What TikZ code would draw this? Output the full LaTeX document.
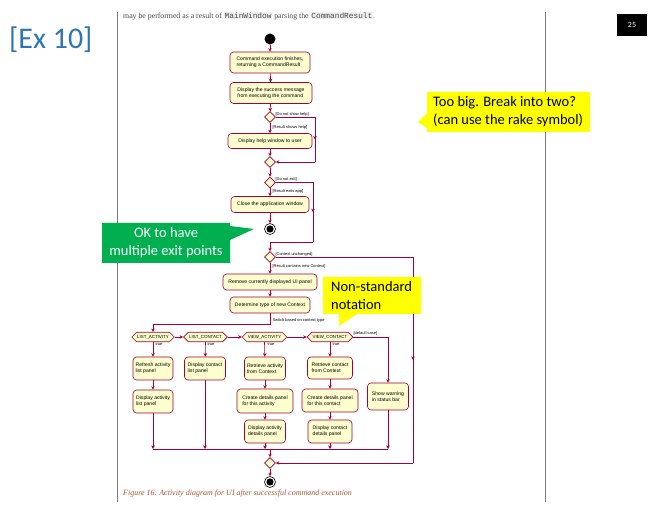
\documentclass[tikz,border=0pt]{standalone}
\usepackage{fontspec}
\setmainfont{Liberation Serif}
\setsansfont{Liberation Sans}
\setmonofont{Liberation Mono}
\newfontfamily\callfont{Carlito}
\usetikzlibrary{shapes.geometric,shapes.symbols,arrows.meta,decorations.markings}

\definecolor{umlfill}{HTML}{FEFECE}
\definecolor{umlline}{HTML}{A80036}
\definecolor{slideblue}{HTML}{2E75B6}
\definecolor{noteyellow}{HTML}{FFFF00}
\definecolor{notegreen}{HTML}{00B050}
\definecolor{pagerule}{HTML}{7A7A7A}
\definecolor{bodytext}{HTML}{4A4A4A}
\definecolor{codebg}{HTML}{EFEFEF}
\definecolor{captiontext}{HTML}{B0562E}

\tikzset{
  act/.style={draw=umlline, fill=umlfill, rounded corners=3.5pt, line width=0.6pt,
    font=\sffamily\fontsize{5.1}{6.1}\selectfont, align=left, inner sep=1pt},
  choice/.style={diamond, draw=umlline, fill=umlfill, line width=0.6pt,
    minimum width=11pt, minimum height=11pt, inner sep=0pt},
  casebox/.style={signal, signal to=west and east, draw=umlline, fill=umlfill,
    line width=0.6pt, font=\sffamily\fontsize{4.4}{5}\selectfont,
    minimum height=9.5pt, inner sep=0.8pt},
  wire/.style={color=umlline, line width=0.6pt},
  flow/.style={wire, -{Stealth[length=3.5pt,width=3.5pt]}},
  midflow/.style={wire, postaction={decorate}, decoration={markings,
    mark=at position #1 with {\arrow{Stealth[length=3.5pt,width=3.5pt]}}}},
  guard/.style={font=\sffamily\fontsize{4}{4.6}\selectfont, inner sep=0.3pt, anchor=west},
  startdot/.style={circle, fill=black, minimum size=11pt, inner sep=0pt},
  enddot/.style={circle, draw=black, fill=white, line width=0.6pt, minimum size=11pt,
    inner sep=0pt, path picture={\fill[black] (path picture bounding box.center) circle (3.6pt);}},
  calltext/.style={font=\callfont\fontsize{14.5}{18}\selectfont, align=left, inner sep=0pt}
}

\begin{document}
\begin{tikzpicture}[x=1pt,y=-1pt]
\useasboundingbox[fill=white] (0,0) rectangle (659,510);

% page margins of the embedded document
\draw[pagerule, line width=1pt] (117,12) -- (117,502);
\draw[pagerule, line width=1pt] (545,12) -- (545,502);

% slide title and page number
\node[font=\callfont\fontsize{30}{34}\selectfont, text=slideblue, anchor=west, inner sep=0pt] (title) at (9,40) {[Ex 10]};
\node[fill=black, text=white, minimum width=30pt, minimum height=22pt, inner sep=0pt,
  font=\callfont\fontsize{8}{9}\selectfont] (pagenum) at (632,25) {25};

% running text above the diagram
\node[anchor=west, inner sep=0pt, text=bodytext, font=\fontsize{7.8}{9}\selectfont] (lead) at (123,16)
  {may be performed as a result of {\setlength\fboxsep{0.8pt}\colorbox{codebg}{\ttfamily MainWindow}} parsing the {\setlength\fboxsep{0.8pt}\colorbox{codebg}{\ttfamily CommandResult}}.};

% ---------- activity diagram ----------
\node[startdot] (start) at (270,39) {};
\node[act, minimum width=80pt, minimum height=21pt] (b1) at (270,62.5) {Command execution finishes,\\returning a CommandResult};
\node[act, minimum width=82pt, minimum height=21pt] (b2) at (271,93) {Display the success message\\from executing the command};
\node[choice] (d1) at (270,117) {};
\node[act, minimum width=84pt, minimum height=15pt] (b3) at (270,141) {Display help window to user};
\node[choice] (d2) at (270,162) {};
\node[choice] (d3) at (270,182.5) {};
\node[act, minimum width=78pt, minimum height=16pt] (b4) at (270,204.5) {Close the application window};
\node[enddot] (end1) at (270,229) {};
\node[choice] (d4) at (270,257) {};
\node[act, minimum width=94pt, minimum height=16pt] (b5) at (270,282) {Remove currently displayed UI panel};
\node[act, minimum width=80pt, minimum height=16pt] (b6) at (270,305) {Determine type of new Context};

% switch cases
\node[casebox, minimum width=40pt] (h1) at (153,337) {LIST\_ACTIVITY};
\node[casebox, minimum width=40pt] (h2) at (205.5,337) {LIST\_CONTACT};
\node[casebox, minimum width=40pt] (h3) at (264.5,337) {VIEW\_ACTIVITY};
\node[casebox, minimum width=44pt] (h4) at (330,337) {VIEW\_CONTACT};

% case actions
\node[act, minimum width=40pt, minimum height=23pt] (c1a) at (153,368.5) {Refresh activity\\list panel};
\node[act, minimum width=40pt, minimum height=23pt] (c1b) at (153,401.5) {Display activity\\list panel};
\node[act, minimum width=41pt, minimum height=23pt] (c2a) at (205,368.5) {Display contact\\list panel};
\node[act, minimum width=41pt, minimum height=23pt] (c3a) at (265,368.5) {Retrieve activity\\from Context};
\node[act, minimum width=56pt, minimum height=24pt] (c3b) at (265,401) {Create details panel\\for this activity};
\node[act, minimum width=41pt, minimum height=23pt] (c3c) at (265,431.5) {Display activity\\details panel};
\node[act, minimum width=45pt, minimum height=22pt] (c4a) at (330,368) {Retrieve contact\\from Context};
\node[act, minimum width=56pt, minimum height=23pt] (c4b) at (330,400.5) {Create details panel\\for this contact};
\node[act, minimum width=44pt, minimum height=23pt] (c4c) at (330,431.5) {Display contact\\details panel};
\node[act, minimum width=41pt, minimum height=27pt] (warn) at (388,396.5) {Show warning\\in status bar};

\node[choice] (dm) at (270,463) {};
\node[enddot] (end2) at (270,482) {};

% routing points
\coordinate (r1a) at (315,117);
\coordinate (r1b) at (315,162);
\coordinate (r3a) at (313,182.5);
\coordinate (r3b) at (313,242);
\coordinate (r3c) at (270,242);
\coordinate (r4a) at (413,257);
\coordinate (r4b) at (413,463);
\coordinate (sw1) at (270,324);
\coordinate (sw2) at (153,324);
\coordinate (dc) at (388,337);
\coordinate (j1) at (153,449);
\coordinate (j2) at (205,449);
\coordinate (j3) at (265,449);
\coordinate (j4) at (330,449);
\coordinate (j5) at (388,449);
\coordinate (jm) at (270,449);

% connectors
\draw[flow] (start) -- (b1);
\draw[flow] (b1) -- (b2);
\draw[flow] (b2) -- (d1);
\draw[flow] (d1) -- (b3);
\draw[flow] (b3) -- (d2);
\draw[wire] (d1.east) -- (r1a);
\draw[midflow=0.5] (r1a) -- (r1b);
\draw[flow] (r1b) -- (d2.east);

\draw[flow] (d2) -- (d3);
\draw[flow] (d3) -- (b4);
\draw[flow] (b4) -- (end1);
\draw[wire] (d3.east) -- (r3a);
\draw[midflow=0.5] (r3a) -- (r3b);
\draw[wire] (r3b) -- (r3c);
\draw[flow] (r3c) -- (d4.north);

\draw[flow] (d4) -- (b5);
\draw[flow] (b5) -- (b6);
\draw[wire] (d4.east) -- (r4a);
\draw[midflow=0.5] (r4a) -- (r4b);
\draw[flow] (r4b) -- (dm.east);

\draw[wire] (b6.south) -- (sw1) -- (sw2);
\draw[flow] (sw2) -- (h1.north);
\draw[flow] (h1.east) -- (h2.west);
\draw[flow] (h2.east) -- (h3.west);
\draw[flow] (h3.east) -- (h4.west);
\draw[wire] (h4.east) -- (dc);
\draw[flow] (dc) -- (warn.north);

\draw[flow] (h1.south) -- (c1a);
\draw[flow] (c1a) -- (c1b);
\draw[flow] (c1b.south) -- (j1);
\draw[flow] (h2.south) -- (c2a);
\draw[flow] (c2a.south) -- (j2);
\draw[flow] (h3.south) -- (c3a);
\draw[flow] (c3a) -- (c3b);
\draw[flow] (c3b) -- (c3c);
\draw[flow] (c3c.south) -- (j3);
\draw[flow] (h4.south) -- (c4a);
\draw[flow] (c4a) -- (c4b);
\draw[flow] (c4b) -- (c4c);
\draw[flow] (c4c.south) -- (j4);
\draw[flow] (warn.south) -- (j5);
\draw[wire] (j1) -- (j5);
\draw[flow] (jm) -- (dm.north);
\draw[flow] (dm) -- (end2);

% guards
\node[guard] (g1) at (275,114) {[Do not show help]};
\node[guard] (g2) at (272,127.5) {[Result shows help]};
\node[guard] (g3) at (275,179.5) {[Do not exit]};
\node[guard] (g4) at (272,191) {[Result exits app]};
\node[guard] (g5) at (275,254.5) {[Context unchanged]};
\node[guard] (g6) at (272,266) {[Result contains new Context]};
\node[guard] (g7) at (272,320) {Switch based on context type};
\node[guard] (g8) at (353,333.5) {[default case]};
\node[guard] (t1) at (155,344) {true};
\node[guard] (t2) at (207,344) {true};
\node[guard] (t3) at (267,344) {true};
\node[guard] (t4) at (332,344) {true};

% caption
\node[anchor=west, inner sep=0pt, text=captiontext, font=\itshape\fontsize{8}{9}\selectfont] (cap) at (123,494)
  {Figure 16. Activity diagram for UI after successful command execution};

% ---------- review callouts ----------
\fill[noteyellow] (427,92) -- (590,92) -- (590,132) -- (427,132) -- (427,128) -- (418,122) -- (427,113) -- cycle;
\node[calltext, anchor=west] (n1) at (433,112) {Too big. Break into two?\\(can use the rake symbol)};

\fill[notegreen] (102,223) -- (230,223) -- (230,226) -- (254,229) -- (230,240) -- (230,263) -- (102,263) -- cycle;
\node[calltext, align=center, text=white] (n2) at (166,243) {OK to have\\multiple exit points};

\fill[noteyellow] (323,277) -- (421,277) -- (421,314) -- (357,314) -- (339,326) -- (339,314) -- (323,314) -- cycle;
\node[calltext, anchor=west] (n3) at (331,295.5) {Non-standard\\notation};

\end{tikzpicture}
\end{document}
